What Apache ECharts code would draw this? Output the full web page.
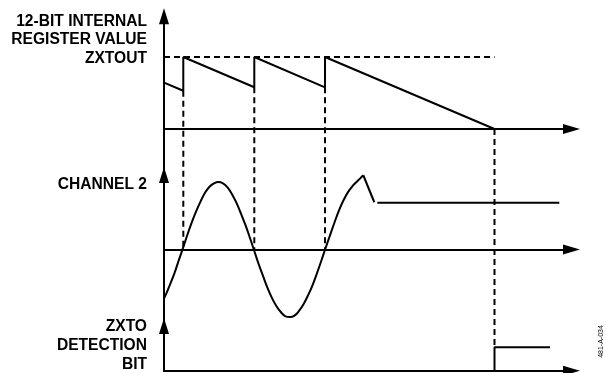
<!DOCTYPE html>
<html><head><meta charset="utf-8">
<script src="https://cdn.jsdelivr.net/npm/echarts@6/dist/echarts.min.js"></script>
<style>html,body{margin:0;padding:0;background:#fff}#c{width:606px;height:373px}</style>
</head><body><div id="c"></div>
<script>
// ---- time axis (arbitrary units, 0 = vertical axis) ----
const tMax = 407.5;

// ---- 12-bit internal register value (ZXTOUT = 4095) ----
const ZXTOUT = 4095;
const regTime  = [0, 19.3, 19.3, 90.3, 90.3, 161, 161, 330.5];
const regValue = [2640, 2178, 4095, 2372, 4095, 2372, 4095, 0];
const zxtoutEnd = 330.5;
// timing guides (dashed), in register-axis units
const guideTime   = [19.3, 90.3, 161, 330.5];
const guideTop    = [2178, 2372, 2372, 0];
const guideBottom = [-6853, -6853, -6853, -12399];

// ---- channel 2 waveform ----
const ch2Time  = [-3, 1.5, 6, 10.5, 15, 18.5, 23, 27.5, 32, 36.5, 41, 45.5, 50, 54.5, 59, 63.5, 68, 72.5, 77, 81.5, 86, 89.8,
                  94.5, 99, 103.5, 108, 112.5, 117, 121.5, 126, 130.5, 135, 139.5, 144, 148.5, 153, 157.5, 161.1,
                  166, 170.5, 175, 179.5, 184, 188.5, 192.5, 196, 199.3];
const ch2Value = [-0.81, -0.68, -0.52, -0.35, -0.15, 0, 0.20, 0.39, 0.56, 0.71, 0.84, 0.93, 0.98, 1.0, 0.98, 0.92, 0.82, 0.69, 0.53, 0.36, 0.17, 0,
                  -0.21, -0.39, -0.57, -0.72, -0.84, -0.93, -0.99, -1.0, -0.98, -0.91, -0.81, -0.68, -0.53, -0.35, -0.16, 0,
                  0.21, 0.40, 0.58, 0.73, 0.85, 0.94, 1.0, 1.05, 1.10];
const dropTime  = [199.3, 210.3];
const dropValue = [1.10, 0.70];
const holdTime  = [213.3, 395.3];
const holdValue = [0.693, 0.693];

// ---- ZXTO detection bit ----
const bitTime  = [330.5, 330.5, 386];
const bitValue = [0, 1, 1];

const zip = (a, b) => a.map((v, i) => [v, b[i]]);
const black = '#000';
const solid = { color: black, width: 2 };
const dashed = { color: black, width: 2, type: [6, 4] };

function xAx(gi) {
  return {
    gridIndex: gi, type: 'value', min: 0, max: tMax,
    axisLine: { show: true, onZero: true, symbol: ['none', 'triangle'], symbolSize: [10, 17], lineStyle: { color: black, width: 2 } },
    axisTick: { show: false }, axisLabel: { show: false }, splitLine: { show: false }
  };
}
function yAx(gi, min, max) {
  return {
    gridIndex: gi, type: 'value', min: min, max: max,
    axisLine: { show: true, onZero: false, symbol: ['none', 'triangle'], symbolSize: [10, 16], lineStyle: { color: black, width: 2 } },
    axisTick: { show: false }, axisLabel: { show: false }, splitLine: { show: false }
  };
}
function line(xi, data, style, smooth) {
  return { type: 'line', xAxisIndex: xi, yAxisIndex: xi, data: data, symbol: 'none', smooth: smooth || false, clip: false, lineStyle: style, silent: true, z: 3 };
}

const series = [
  line(0, zip(regTime, regValue), solid),
  line(0, [[0, ZXTOUT], [zxtoutEnd, ZXTOUT]], dashed),
  line(1, zip(ch2Time, ch2Value), solid, 0.4),
  line(1, zip(dropTime, dropValue), solid),
  line(1, zip(holdTime, holdValue), solid),
  line(2, zip(bitTime, bitValue), solid)
];
guideTime.forEach((t, i) => series.push(line(0, [[t, guideTop[i]], [t, guideBottom[i]]], dashed)));

const txtFont = 'bold 15.6px "Liberation Sans", Arial, sans-serif';
function label(text, y) {
  return { type: 'text', x: 147, y: y, style: { text: text, font: txtFont, fill: black, textAlign: 'right', textVerticalAlign: 'middle', verticalAlign: 'middle' } };
}

const chart = echarts.init(document.getElementById('c'), null, { renderer: 'canvas' });
chart.setOption({
  animation: false,
  backgroundColor: '#fff',
  grid: [
    { left: 164, right: 34.5, top: 16.3, bottom: 2 },
    { left: 164, right: 34.5, top: 175, bottom: 2 },
    { left: 164, right: 34.5, top: 326, bottom: 2.3 }
  ],
  xAxis: [xAx(0), xAx(1), xAx(2)],
  yAxis: [
    yAx(0, -(371 - 129) * 56.875, (129 - 16.3) * 56.875),
    yAx(1, -1.8, (249.5 - 175) / 67.5),
    yAx(2, 0, 1.9)
  ],
  series: series,
  graphic: [
    label('12-BIT INTERNAL', 21.7),
    label('REGISTER VALUE', 39.8),
    label('ZXTOUT', 58.3),
    label('CHANNEL 2', 184.3),
    label('ZXTO', 326.7),
    label('DETECTION', 345.7),
    label('BIT', 364.3),
    { type: 'text', x: 601.5, y: 341.5, rotation: Math.PI / 2,
      style: { text: '481-A-034', font: '7px "Liberation Sans", Arial, sans-serif', fill: black, textAlign: 'center', textVerticalAlign: 'middle', verticalAlign: 'middle' } }
  ]
});
</script></body></html>
